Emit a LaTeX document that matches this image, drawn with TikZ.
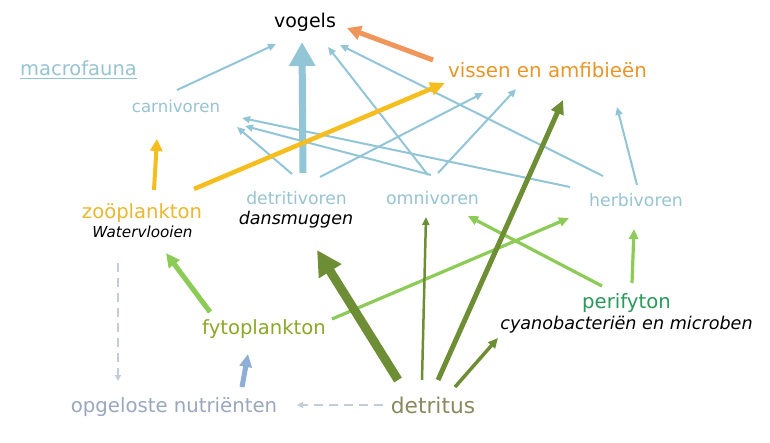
\documentclass[tikz,border=0pt]{standalone}
\usepackage{fontspec}
\setmainfont{DejaVu Sans}
\usetikzlibrary{arrows.meta}
\definecolor{cblue}{HTML}{92C5D6}
\definecolor{tblue}{HTML}{98C4D2}
\definecolor{corange}{HTML}{F0965A}
\definecolor{torange}{HTML}{E8962A}
\definecolor{cyellow}{HTML}{F5BE1E}
\definecolor{tyellow}{HTML}{E8B830}
\definecolor{clgreen}{HTML}{8CCB55}
\definecolor{cdgreen}{HTML}{6E8E35}
\definecolor{tfyto}{HTML}{8CA828}
\definecolor{tperi}{HTML}{2A9A5A}
\definecolor{tdet}{HTML}{8A8A60}
\definecolor{tnut}{HTML}{9AA8BE}
\definecolor{cnut}{HTML}{8FAED6}
\definecolor{cdash}{HTML}{C2CDDC}
\newcommand\fsz[1]{\fontsize{#1}{#1}\selectfont}
\begin{document}
\begin{tikzpicture}[x=1pt,y=-1pt,
  lbl/.style={anchor=base,inner sep=0pt,outer sep=0pt},
  thinblue/.style={draw=cblue,line width=2pt,-{Triangle[length=8pt,width=7pt]}},
  thickblue/.style={draw=cblue,line width=7pt,-{Triangle[length=24pt,width=25pt]}},
  orangearr/.style={draw=corange,line width=5pt,-{Triangle[length=14pt,width=14pt]}},
  yelbig/.style={draw=cyellow,line width=4.5pt,-{Triangle[length=15pt,width=13pt]}},
  yelsmall/.style={draw=cyellow,line width=4pt,-{Triangle[length=12pt,width=12pt]}},
  lgbig/.style={draw=clgreen,line width=5pt,-{Triangle[length=14pt,width=13pt]}},
  lgthin/.style={draw=clgreen,line width=3.2pt,-{Triangle[length=10pt,width=9pt]}},
  dgthick/.style={draw=cdgreen,line width=9pt,-{Triangle[length=25pt,width=25pt]}},
  dgmed/.style={draw=cdgreen,line width=5pt,-{Triangle[length=14pt,width=13pt]}},
  dgsmall/.style={draw=cdgreen,line width=3.5pt,-{Triangle[length=10pt,width=9pt]}},
  dgthin/.style={draw=cdgreen,line width=2.5pt,-{Triangle[length=8pt,width=7pt]}},
  nutarr/.style={draw=cnut,line width=5pt,-{Triangle[length=13pt,width=12pt]}},
  dasharr/.style={draw=cdash,line width=2.5pt,dash pattern=on 9pt off 6pt,-{Triangle[length=6pt,width=6pt]}}
]
\fill[white] (0,0) rectangle (770,442);
\useasboundingbox (0,0) rectangle (770,442);

% labels
\node[lbl] (vogels) at (305,27) {\fsz{19}vogels};
\node[lbl,text=tblue] (macro) at (78.5,75) {\fsz{19.5}macrofauna};
\draw[tblue,line width=1pt] ([yshift=-3pt]macro.base west) -- ([yshift=-3pt]macro.base east);
\node[lbl,text=tblue] (carn) at (176,112) {\fsz{16.6}carnivoren};
\node[lbl,text=torange] (vissen) at (547.5,77) {\fsz{19.8}vissen en amfibieën};
\node[lbl,text=tyellow] (zoo) at (142,218) {\fsz{19.6}zoöplankton};
\node[lbl] (water) at (142.5,237) {\fsz{15.2}\itshape Watervlooien};
\node[lbl,text=tblue] (detv) at (296.5,204) {\fsz{17.2}detritivoren};
\node[lbl] (dans) at (296,224) {\fsz{17.5}\itshape dansmuggen};
\node[lbl,text=tblue] (omni) at (432.5,204) {\fsz{17.4}omnivoren};
\node[lbl,text=tblue] (herb) at (636,206) {\fsz{17.3}herbivoren};
\node[lbl,text=tperi] (peri) at (626.5,308) {\fsz{19.7}perifyton};
\node[lbl] (cyano) at (626.5,329) {\fsz{17.6}\itshape cyanobacteriën en microben};
\node[lbl,text=tfyto] (fyto) at (264,334) {\fsz{19.6}fytoplankton};
\node[lbl,text=tnut] (nut) at (174,412) {\fsz{19.7}opgeloste nutriënten};
\node[lbl,text=tdet] (detr) at (433,413) {\fsz{21.7}detritus};

% connector end points
\coordinate (carnA) at (177,90);   \coordinate (vogA) at (276,44);
\coordinate (detvA) at (303,173);  \coordinate (vogB) at (302,42);
\coordinate (detvB) at (292,174);  \coordinate (carnB) at (237,127);
\coordinate (detvC) at (320,177);  \coordinate (visA) at (483,93);
\coordinate (omniA) at (428,175);  \coordinate (vogC) at (328,47);
\coordinate (omniB) at (431,175);  \coordinate (carnC) at (245,126);
\coordinate (omniC) at (438,173);  \coordinate (visB) at (516,89);
\coordinate (herbA) at (603,176);  \coordinate (vogD) at (340,45);
\coordinate (herbB) at (570,187);  \coordinate (carnD) at (242,118);
\coordinate (herbC) at (637,185);  \coordinate (visC) at (617,107);
\coordinate (visD) at (433,60);    \coordinate (vogE) at (347,28);
\coordinate (zooA) at (194,189);   \coordinate (visE) at (445,83);
\coordinate (zooB) at (154,190);   \coordinate (carnE) at (157,139);
\coordinate (fytoA) at (210,312);  \coordinate (zooC) at (166,253);
\coordinate (fytoB) at (332,319);  \coordinate (herbD) at (569,218);
\coordinate (periA) at (602,286);  \coordinate (omniD) at (468,216);
\coordinate (periB) at (632,283);  \coordinate (herbE) at (634,229);
\coordinate (detrA) at (398,380);  \coordinate (detvD) at (317,250);
\coordinate (detrB) at (422,380);  \coordinate (omniE) at (426,217);
\coordinate (detrC) at (438,380);  \coordinate (visF) at (563,100);
\coordinate (detrD) at (455,387);  \coordinate (cyanoA) at (498,338);
\coordinate (nutA) at (242,387);   \coordinate (fytoC) at (248,354);
\coordinate (zooD) at (118,263);   \coordinate (nutB) at (118,381);
\coordinate (detrE) at (383,405);  \coordinate (nutC) at (297,405);

% blue connectors
\draw[thinblue] (carnA) -- (vogA);
\draw[thinblue] (detvB) -- (carnB);
\draw[thinblue] (detvC) -- (visA);
\draw[thinblue] (omniA) -- (vogC);
\draw[thinblue] (omniB) -- (carnC);
\draw[thinblue] (omniC) -- (visB);
\draw[thinblue] (herbA) -- (vogD);
\draw[thinblue] (herbB) -- (carnD);
\draw[thinblue] (herbC) -- (visC);
\draw[thickblue] (detvA) -- (vogB);
% orange
\draw[orangearr] (visD) -- (vogE);
% yellow
\draw[yelbig] (zooA) -- (visE);
\draw[yelsmall] (zooB) -- (carnE);
% light green
\draw[lgbig] (fytoA) -- (zooC);
\draw[lgthin] (fytoB) -- (herbD);
\draw[lgthin] (periA) -- (omniD);
\draw[lgthin] (periB) -- (herbE);
% dark green
\draw[dgthick] (detrA) -- (detvD);
\draw[dgthin] (detrB) -- (omniE);
\draw[dgmed] (detrC) -- (visF);
\draw[dgsmall] (detrD) -- (cyanoA);
% nutrients
\draw[nutarr] (nutA) -- (fytoC);
\draw[dasharr] (zooD) -- (nutB);
\draw[dasharr] (detrE) -- (nutC);
\end{tikzpicture}
\end{document}
